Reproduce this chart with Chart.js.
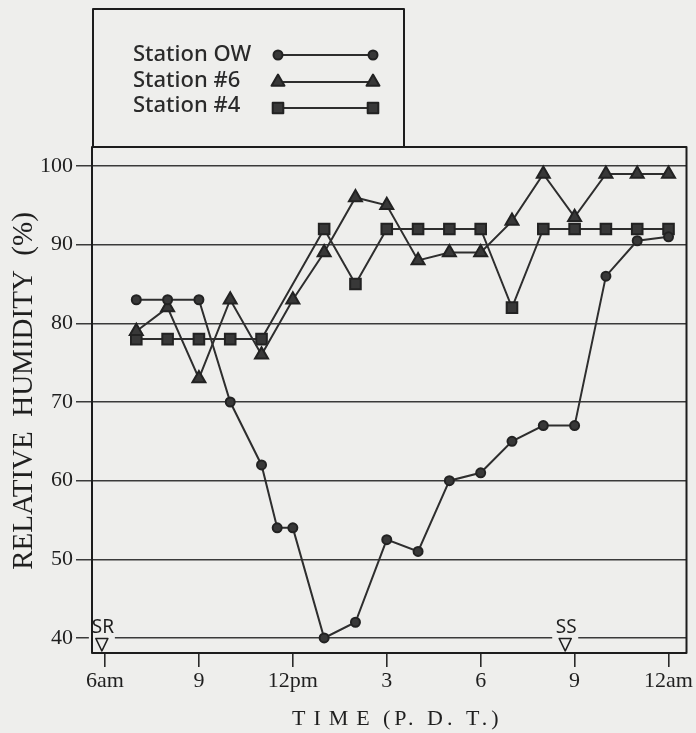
<!DOCTYPE html>
<html>
<head>
<meta charset="utf-8">
<title>Relative humidity</title>
<script src="https://cdn.jsdelivr.net/npm/chart.js@4.4.1/dist/chart.umd.min.js"></script>
<style>
  html, body { margin: 0; padding: 0; background: #eeeeec; }
  #wrap { width: 696px; height: 733px; }
</style>
</head>
<body>
<div id="wrap"><canvas id="myChart" width="696" height="733"></canvas></div>
<script>
const seriesNames = ['Station OW', 'Station #6', 'Station #4'];

const owHours = [7, 8, 9, 10, 11, 11.5, 12, 13, 14, 15, 16, 17, 18, 19, 20, 21, 22, 23, 24];
const owValues = [83, 83, 83, 70, 62, 54, 54, 40, 42, 52.5, 51, 60, 61, 65, 67, 67, 86, 90.5, 91];

const st6Hours = [7, 8, 9, 10, 11, 12, 13, 14, 15, 16, 17, 18, 19, 20, 21, 22, 23, 24];
const st6Values = [79, 82, 73, 83, 76, 83, 89, 96, 95, 88, 89, 89, 93, 99, 93.5, 99, 99, 99];

const st4Hours = [7, 8, 9, 10, 11, 13, 14, 15, 16, 17, 18, 19, 20, 21, 22, 23, 24];
const st4Values = [78, 78, 78, 78, 78, 92, 85, 92, 92, 92, 92, 82, 92, 92, 92, 92, 92];

const xTicks = [6, 9, 12, 15, 18, 21, 24];
const xTickLabels = ['6am', '9', '12pm', '3', '6', '9', '12am'];
const yTicks = [40, 50, 60, 70, 80, 90, 100];

// sunrise / sunset marks sitting on the 40% line
const sunLabels = ['SR', 'SS'];
const sunHours = [5.9, 20.7];

const paper = '#eeeeec';
const ink = '#1f1f1f';
const markFill = '#383838';
const serif = '"Liberation Serif", "DejaVu Serif", serif';
const sans = '"Noto Sans", "DejaVu Sans", sans-serif';

function toPoints(hours, values) {
  return hours.map((h, i) => ({ x: h, y: values[i] }));
}

function seriesStyle(style, radius) {
  return {
    pointStyle: style,
    pointRadius: radius,
    pointBorderWidth: 2,
    pointBackgroundColor: markFill,
    pointBorderColor: '#222',
    borderColor: '#2e2e2e',
    borderWidth: 2,
    tension: 0,
    fill: false,
  };
}

const paperPlugin = {
  id: 'paper',
  beforeDraw(chart) {
    const c = chart.ctx;
    c.save();
    c.fillStyle = paper;
    c.fillRect(0, 0, chart.width, chart.height);
    c.restore();
  },
  afterDraw(chart) {
    const c = chart.ctx;
    const a = chart.chartArea;
    const xs = chart.scales.x;
    const ys = chart.scales.y;
    c.save();
    c.lineJoin = 'round';

    // SR / SS markers
    const base = ys.getPixelForValue(40);
    sunLabels.forEach((lab, i) => {
      const px = xs.getPixelForValue(sunHours[i]);
      c.fillStyle = paper;
      c.fillRect(px - 13, base - 2, 26, 4);
      c.strokeStyle = ink;
      c.lineWidth = 1.6;
      c.beginPath();
      c.moveTo(px - 6, base + 0.5);
      c.lineTo(px + 6, base + 0.5);
      c.lineTo(px, base + 13);
      c.closePath();
      c.stroke();
      c.fillStyle = ink;
      c.font = '19px ' + sans;
      c.textAlign = 'center';
      c.textBaseline = 'alphabetic';
      c.fillText(lab, px + 1, base - 5);
    });

    // frame and legend box
    c.strokeStyle = '#1c1c1c';
    c.lineWidth = 2;
    c.strokeRect(a.left, a.top, a.right - a.left, a.bottom - a.top);
    c.strokeRect(a.left + 1, 9, 311, a.top - 9);

    // legend entries
    const rowText = [61, 87, 112];
    const rowMark = [55, 82, 108];
    chart.data.datasets.forEach((ds, i) => {
      c.fillStyle = '#2a2a2a';
      c.font = '500 22px ' + sans;
      c.textAlign = 'left';
      c.textBaseline = 'alphabetic';
      c.fillText(ds.label, 133, rowText[i]);
      c.strokeStyle = ds.borderColor;
      c.lineWidth = ds.borderWidth;
      c.beginPath();
      c.moveTo(278, rowMark[i]);
      c.lineTo(373, rowMark[i]);
      c.stroke();
      [278, 373].forEach(px => {
        c.fillStyle = ds.pointBackgroundColor;
        c.strokeStyle = ds.pointBorderColor;
        c.lineWidth = ds.pointBorderWidth;
        Chart.helpers.drawPoint(c, { pointStyle: ds.pointStyle, radius: ds.pointRadius, rotation: 0, borderWidth: ds.pointBorderWidth }, px, rowMark[i]);
      });
    });

    // axis titles
    c.fillStyle = ink;
    c.font = '29px ' + serif;
    c.textAlign = 'center';
    c.textBaseline = 'alphabetic';
    c.save();
    c.translate(32, 391);
    c.rotate(-Math.PI / 2);
    c.fillText('RELATIVE  HUMIDITY  (%)', 0, 0);
    c.restore();

    c.font = '22px ' + serif;
    c.textAlign = 'left';
    c.letterSpacing = '8px';
    c.fillText('TIME', 292, 725);
    c.letterSpacing = '4px';
    c.fillText('(P. D. T.)', 383, 725);
    c.restore();
  },
};

const ctx = document.getElementById('myChart');

new Chart(ctx, {
  type: 'line',
  data: {
    datasets: [
      { label: seriesNames[0], data: toPoints(owHours, owValues), ...seriesStyle('circle', 4.5) },
      { label: seriesNames[1], data: toPoints(st6Hours, st6Values), ...seriesStyle('triangle', 7.5) },
      { label: seriesNames[2], data: toPoints(st4Hours, st4Values), ...seriesStyle('rect', 7.5) },
    ],
  },
  options: {
    responsive: false,
    animation: false,
    events: [],
    layout: { padding: { top: 147, right: 9, bottom: 0, left: 0 } },
    plugins: {
      legend: { display: false },
      tooltip: { enabled: false },
    },
    scales: {
      x: {
        type: 'linear',
        min: 5.585,
        max: 24.574,
        afterFit: (s) => { s.height = 80; },
        afterBuildTicks: (s) => { s.ticks = xTicks.map(v => ({ value: v })); },
        ticks: {
          callback: (v) => xTickLabels[xTicks.indexOf(v)],
          font: { family: serif, size: 22 },
          color: ink,
          padding: 1,
          maxRotation: 0,
          autoSkip: false,
        },
        grid: { drawOnChartArea: false, tickLength: 14, color: '#2a2a2a', lineWidth: 1.6 },
        border: { display: false },
      },
      y: {
        min: 38.09,
        max: 102.42,
        afterFit: (s) => { s.width = 92; },
        afterBuildTicks: (s) => { s.ticks = yTicks.map(v => ({ value: v })); },
        ticks: {
          font: { family: serif, size: 22 },
          color: ink,
          padding: 3,
        },
        grid: { tickLength: 16, color: '#3a3a3a', lineWidth: 1.5 },
        border: { display: false },
      },
    },
  },
  plugins: [paperPlugin],
});
</script>
</body>
</html>
